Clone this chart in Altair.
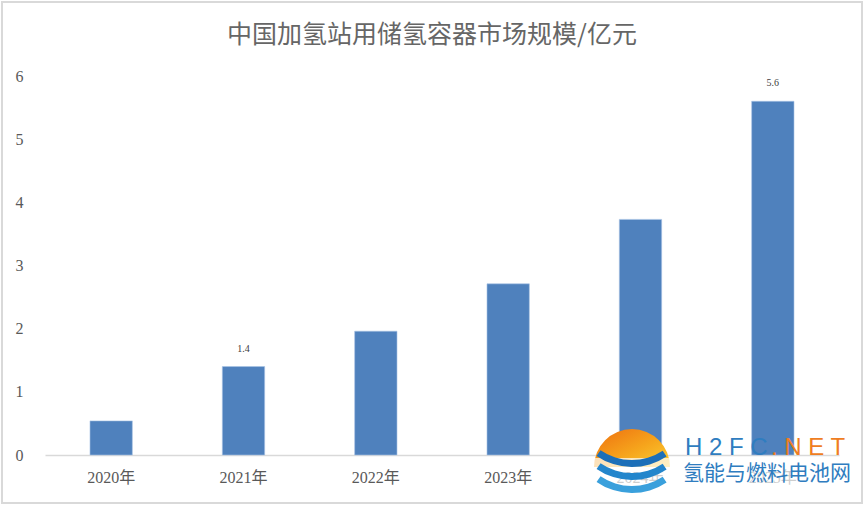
import altair as alt
import pandas as pd

# Market size of hydrogen storage vessels for Chinese refuelling stations (亿元)
years = ["2020年", "2021年", "2022年", "2023年", "2024年", "2025年"]
values = [0.54, 1.4, 1.96, 2.71, 3.73, 5.6]
value_labels = ["", "1.4", "", "", "", "5.6"]
y_ticks = [0, 1, 2, 3, 4, 5, 6]

title_text = "中国加氢站用储氢容器市场规模/亿元"
brand_blue = "H 2 F C"
brand_orange = ". N E T"
brand_cn = "氢能与燃料电池网"

df = pd.DataFrame({"year": years, "value": values, "label": value_labels})

PLOT_W, PLOT_H = 794, 379
LEFT, TOP = 45, 76

x_enc = alt.X(
    "year:N",
    sort=years,
    title=None,
    scale=alt.Scale(paddingInner=0.68, paddingOuter=0.34),
    axis=alt.Axis(
        labelAngle=0,
        labelFont="Liberation Serif, Noto Sans CJK SC",
        labelFontSize=16,
        labelColor="#595959",
        labelPadding=14,
        ticks=False,
        domainColor="#d9d9d9",
        domainWidth=1.5,
        grid=False,
    ),
)
y_enc = alt.Y(
    "value:Q",
    title=None,
    scale=alt.Scale(domain=[0, 6], nice=False),
    axis=alt.Axis(
        values=y_ticks,
        labelFont="Liberation Serif",
        labelFontSize=16,
        labelColor="#595959",
        labelPadding=22,
        ticks=False,
        domain=False,
        grid=False,
    ),
)

base = alt.Chart(df).encode(x=x_enc, y=y_enc)

bars = base.mark_bar(color="#4f81bd", stroke="#a9c4e6", strokeWidth=0.6)

labels = base.mark_text(
    dy=-18, fontSize=10, font="Liberation Serif", color="#404040"
).encode(text="label:N")

one = pd.DataFrame({"k": [0]})

# chart title, centred over the whole figure
title = alt.Chart(one).mark_text(
    text=title_text, font="Noto Sans CJK SC", fontSize=25, color="#666666",
    align="center", baseline="middle", clip=False,
).encode(x=alt.value(432 - LEFT), y=alt.value(35 - TOP))

# light frame around the whole figure
frame = alt.Chart(one).mark_rect(
    fill=None, stroke="#d9d9d9", strokeWidth=2, clip=False
).encode(
    x=alt.value(2 - LEFT),
    x2=alt.value(862 - LEFT),
    y=alt.value(2 - TOP),
    y2=alt.value(503 - TOP),
)

# site badge in the lower-right corner: sun over waves, plus name
cx, cy = 632 - LEFT, 467 - TOP
sun = alt.Chart(one).mark_arc(
    radius=0, radius2=38, theta=4.712, theta2=7.854, clip=False,
    color=alt.Gradient(
        gradient="linear", x1=0, y1=0, x2=1, y2=1,
        stops=[alt.GradientStop(color="#ee6f10", offset=0),
               alt.GradientStop(color="#f6a51c", offset=0.55),
               alt.GradientStop(color="#fbd035", offset=1)],
    ),
).encode(x=alt.value(cx), y=alt.value(cy))

wave_bg = alt.Chart(one).mark_rect(color="white", opacity=0.7, clip=False).encode(
    x=alt.value(594 - LEFT), x2=alt.value(674 - LEFT),
    y=alt.value(458 - TOP), y2=alt.value(499 - TOP),
)

waves = [
    alt.Chart(one).mark_arc(
        radius=55, radius2=62, theta=2.55, theta2=3.75, clip=False, color=c
    ).encode(x=alt.value(cx), y=alt.value(cy + dy))
    for dy, c in [(-62, "#1c6fb8"), (-49, "#2386cc"), (-36, "#3aa0dc")]
]

brand_box = alt.Chart(one).mark_rect(color="white", opacity=0.7, clip=False).encode(
    x=alt.value(680 - LEFT), x2=alt.value(858 - LEFT),
    y=alt.value(462 - TOP), y2=alt.value(486 - TOP),
)

brand1 = alt.Chart(one).mark_text(
    text=brand_blue, font="Liberation Sans", fontSize=24, color="#2f7dc0",
    align="left", baseline="middle", clip=False,
).encode(x=alt.value(685 - LEFT), y=alt.value(448 - TOP))
brand2 = alt.Chart(one).mark_text(
    text=brand_orange, font="Liberation Sans", fontSize=24, color="#ef7d22",
    align="left", baseline="middle", clip=False,
).encode(x=alt.value(771 - LEFT), y=alt.value(448 - TOP))
brand3 = alt.Chart(one).mark_text(
    text=brand_cn, font="Noto Sans CJK SC", fontSize=21, color="#2f7dc0",
    align="left", baseline="middle", clip=False,
).encode(x=alt.value(683 - LEFT), y=alt.value(474 - TOP))

chart = alt.layer(
    frame, title, bars, labels, brand_box, sun, wave_bg, *waves, brand1, brand2, brand3
).properties(
    width=PLOT_W,
    height=PLOT_H,
    autosize=alt.AutoSizeParams(type="none"),
    padding={"left": LEFT, "top": TOP, "right": 865 - LEFT - PLOT_W, "bottom": 506 - TOP - PLOT_H},
    background="white",
).configure_view(stroke=None)

chart.save("out.html", embed_options={"renderer": "svg", "actions": False})
